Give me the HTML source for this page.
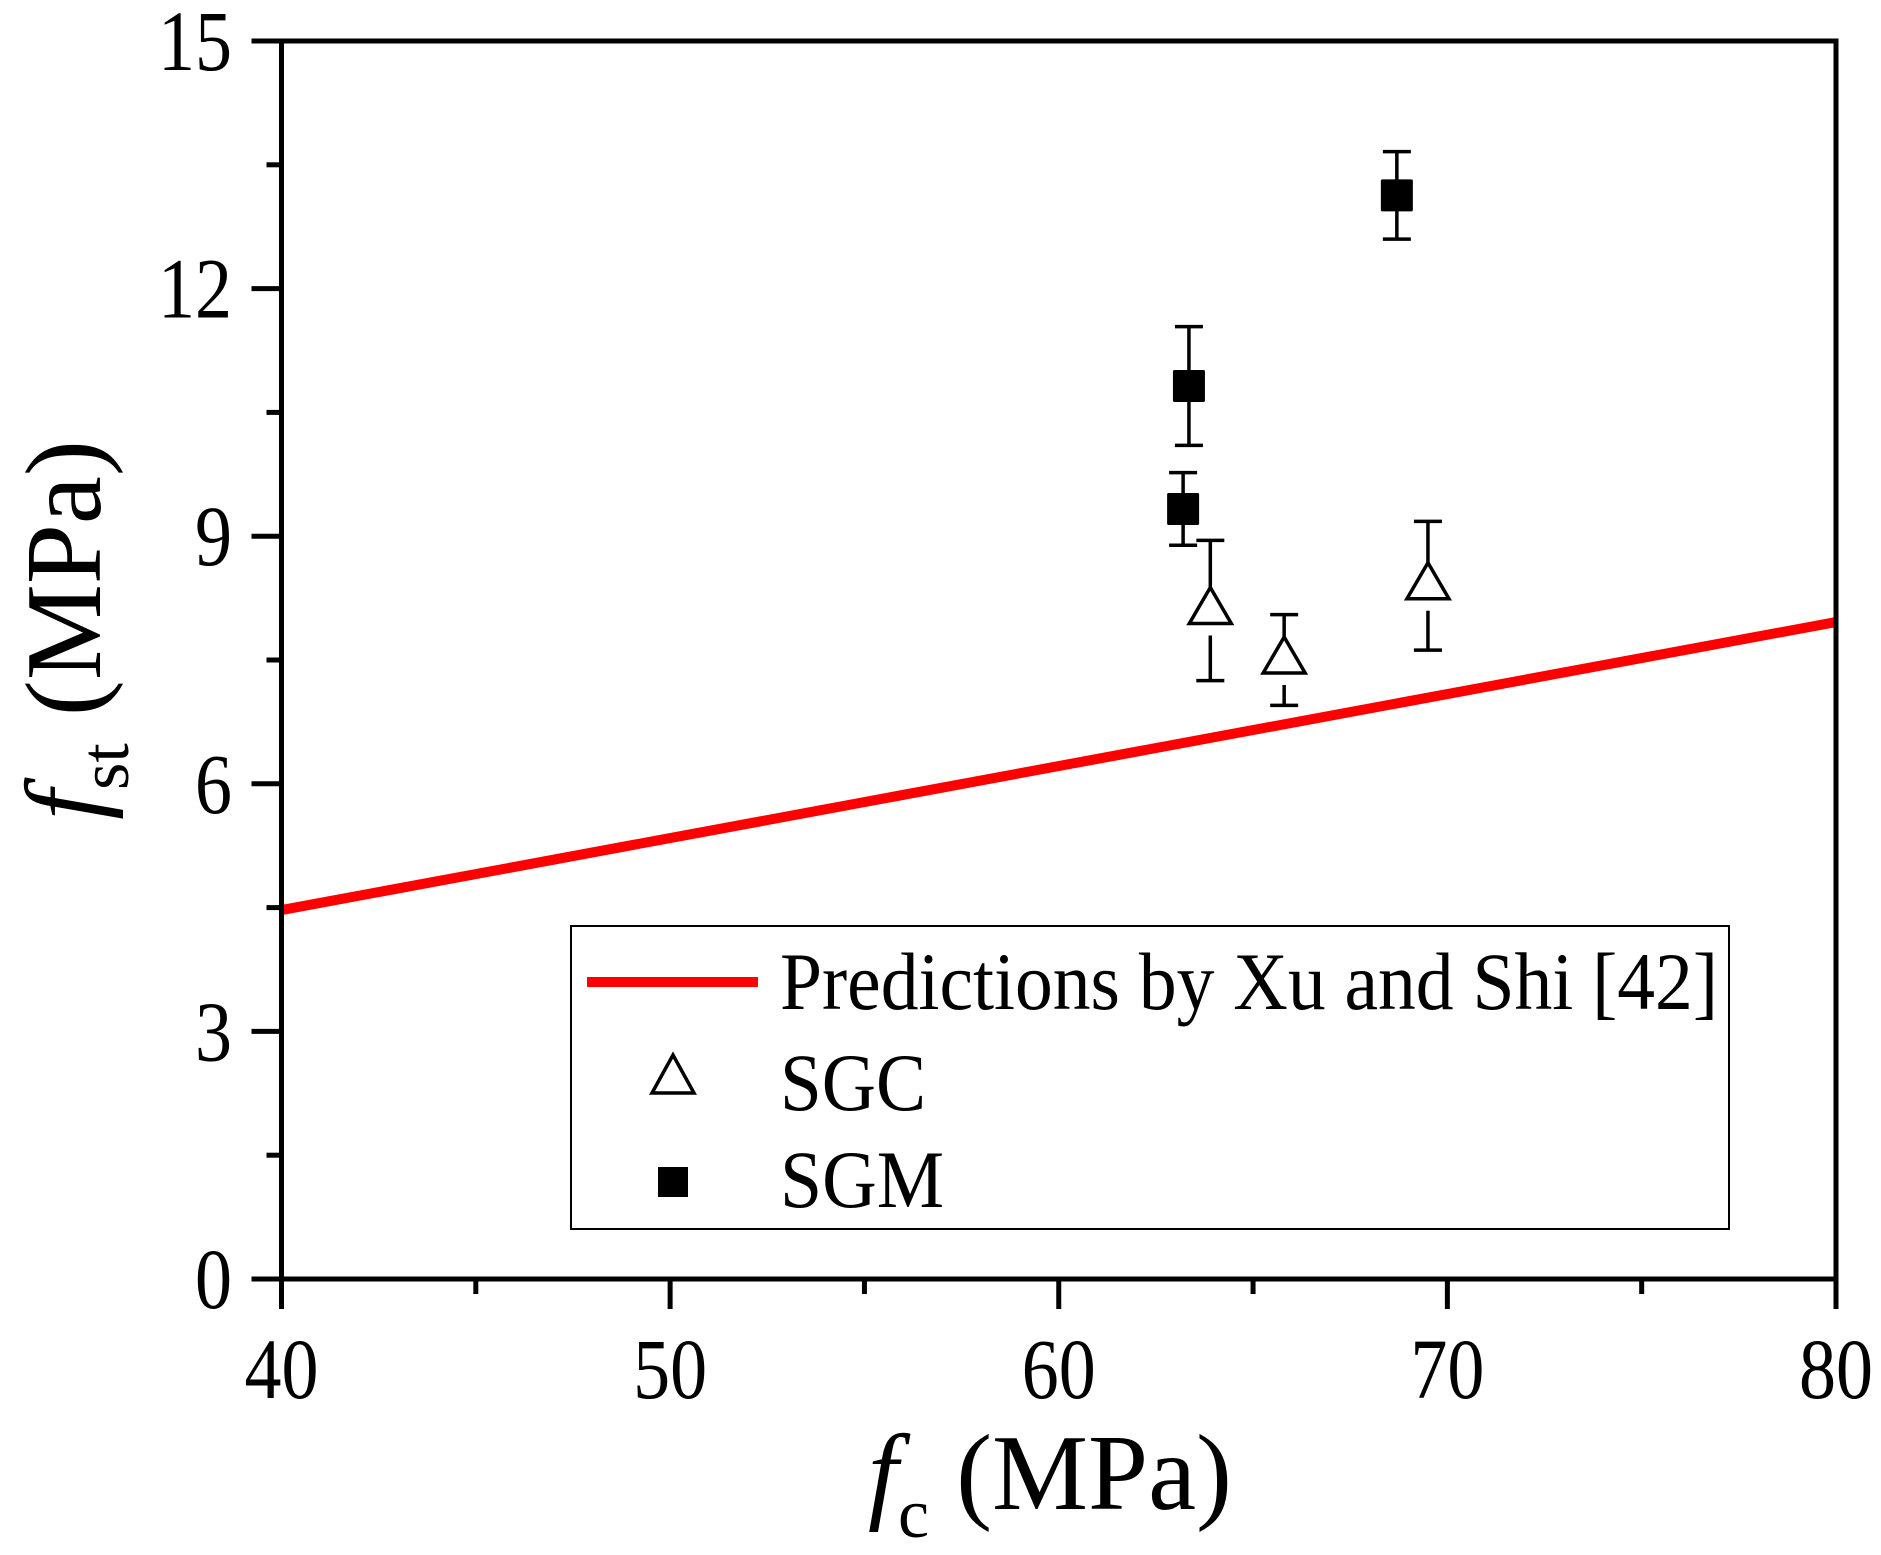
<!DOCTYPE html>
<html><head><meta charset="utf-8"><style>
html,body{margin:0;padding:0;background:#fff;}
svg{display:block;font-family:"Liberation Serif",serif;}
</style></head><body>
<svg id="chart" width="1881" height="1555" viewBox="0 0 1881 1555" xmlns="http://www.w3.org/2000/svg">
<rect x="0" y="0" width="1881" height="1555" fill="#fff"/>
<g id="marks"></g>
<rect x="281.5" y="41" width="1554.5" height="1238" fill="none" stroke="#000" stroke-width="5"/>
<g id="axes"></g>
<text x="1050" y="1509" font-size="108" text-anchor="middle"><tspan font-style="italic">f</tspan><tspan font-size="70" dy="28">c</tspan><tspan dy="-28"> (MPa)</tspan></text>
<text transform="translate(100,630) rotate(-90)" font-size="108" text-anchor="middle"><tspan font-style="italic">f</tspan><tspan font-size="70" dy="28">st</tspan><tspan dy="-28"> (MPa)</tspan></text>
<g>
<rect x="571" y="926" width="1158" height="303" fill="#fff" stroke="#000" stroke-width="2"/>
<line x1="587" y1="982" x2="758" y2="982" stroke="#f00" stroke-width="10"/>
<text x="780" y="1009" font-size="82" textLength="938" lengthAdjust="spacingAndGlyphs">Predictions by Xu and Shi [42]</text>
<polygon points="673,1055 652,1093 694,1093" fill="#fff" stroke="#000" stroke-width="3.5"/>
<text x="780" y="1110" font-size="82" textLength="146" lengthAdjust="spacingAndGlyphs">SGC</text>
<rect x="658" y="1167" width="30" height="30" fill="#000"/>
<text x="780" y="1207" font-size="82" textLength="164" lengthAdjust="spacingAndGlyphs">SGM</text>
</g>
</svg>
<script>
const xTicks = [40, 50, 60, 70, 80];
const yTicks = [0, 3, 6, 9, 12, 15];
const lineX = [40, 80];
const lineY = [4.47, 7.96];
const sgcX = [63.9, 65.8, 69.5];
const sgcY = [8.1, 7.5, 8.4];
const sgcErr = [0.85, 0.55, 0.78];
const sgmX = [63.2, 63.35, 68.7];
const sgmY = [9.33, 10.82, 13.13];
const sgmErr = [0.44, 0.72, 0.53];

const X0=281.5, X1=1836, Y0=1279, Y1=41;
function sx(v){return X0+(v-40)/(80-40)*(X1-X0);}
function sy(v){return Y0-(v-0)/(15-0)*(Y0-Y1);}
const NS="http://www.w3.org/2000/svg";
function mk(tag,attrs,parent){const e=document.createElementNS(NS,tag);for(const k in attrs)e.setAttribute(k,attrs[k]);parent.appendChild(e);return e;}
const axes=document.getElementById('axes');
const marks=document.getElementById('marks');

xTicks.forEach((t,i)=>{
  const l=mk('line',{x1:sx(t),x2:sx(t),y1:Y0,y2:Y0+30,stroke:'#000','stroke-width':5},axes);
  
  
  const tx=mk('text',{x:sx(t),y:1398,'font-size':86,'text-anchor':'middle',textLength:String(t).length*37,lengthAdjust:'spacingAndGlyphs'},axes);
  tx.textContent=t;
  
  
  if(i<xTicks.length-1){
    const m=(t+xTicks[i+1])/2;
    const ml=mk('line',{x1:sx(m),x2:sx(m),y1:Y0,y2:Y0+15,stroke:'#000','stroke-width':5},axes);
    
    
  }
});
yTicks.forEach((t,i)=>{
  const l=mk('line',{x1:X0-30,x2:X0,y1:sy(t),y2:sy(t),stroke:'#000','stroke-width':5},axes);
  
  
  const tx=mk('text',{x:232,y:sy(t)+29,'font-size':86,'text-anchor':'end',textLength:String(t).length*37,lengthAdjust:'spacingAndGlyphs'},axes);
  tx.textContent=t;
  
  
  if(i<yTicks.length-1){
    const m=(t+yTicks[i+1])/2;
    const ml=mk('line',{x1:X0-15,x2:X0,y1:sy(m),y2:sy(m),stroke:'#000','stroke-width':5},axes);
    
    
  }
});

const pl=mk('polyline',{points:lineX.map((x,i)=>sx(x)+','+sy(lineY[i])).join(' '),fill:'none',stroke:'#f00','stroke-width':10},marks);



function errbar(x,y,e,gapTop,gapBot){
  const cx=sx(x),t=sy(y+e),b=sy(y-e),c=sy(y);
  const g=mk('g',{},marks);
  
  
  mk('line',{x1:cx,x2:cx,y1:t,y2:c-gapTop,stroke:'#000','stroke-width':3.5},g);
  mk('line',{x1:cx,x2:cx,y1:c+gapBot,y2:b,stroke:'#000','stroke-width':3.5},g);
  mk('line',{x1:cx-14,x2:cx+14,y1:t,y2:t,stroke:'#000','stroke-width':3.5},g);
  mk('line',{x1:cx-14,x2:cx+14,y1:b,y2:b,stroke:'#000','stroke-width':3.5},g);
}
sgcX.forEach((x,i)=>{
  errbar(x,sgcY[i],sgcErr[i],23,25);
  const cx=sx(x),c=sy(sgcY[i]);
  const p=mk('polygon',{points:`${cx},${c-23} ${cx-21},${c+13} ${cx+21},${c+13}`,fill:'#fff',stroke:'#000','stroke-width':3.5},marks);
  
  
});
sgmX.forEach((x,i)=>{
  errbar(x,sgmY[i],sgmErr[i],0,0);
  const cx=sx(x),c=sy(sgmY[i]);
  const r=mk('rect',{x:cx-16,y:c-16,width:32,height:32,rx:1.5,fill:'#000'},marks);
  
  
});
</script>
</body></html>
